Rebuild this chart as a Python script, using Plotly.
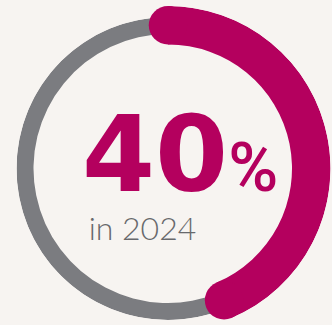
import math
import plotly.graph_objects as go

# ---- data ----
headline_value = ["40"]        # big number
headline_unit = ["%"]
sub_label = ["in 2024"]
arc_share = [43.6]             # visible share of the ring covered by the magenta arc (%)

# ---- styles ----
W, H = 332, 325
BG = "#f7f4f1"
MAGENTA = "#b4005e"
GREY = "#7b7c80"
TEXT_GREY = "#68696c"

CX, CY = 168.0, 168.5          # ring centre in page px
R_OUT_M, R_IN_M = 162.5, 124.0 # magenta band
R_OUT_G, R_IN_G = 151.5, 134.5 # grey band

arc_deg = arc_share[0] / 100 * 360

def sector_bbox(s0, s1):
    pts_x = [0.0, math.cos(math.radians(s0)), math.cos(math.radians(s1))]
    pts_y = [0.0, math.sin(math.radians(s0)), math.sin(math.radians(s1))]
    for a in (0, 90, 180, 270, 360, -90, -180, 450):
        if s0 <= a <= s1:
            pts_x.append(math.cos(math.radians(a)))
            pts_y.append(math.sin(math.radians(a)))
    return min(pts_x), min(pts_y), max(pts_x), max(pts_y)

def domain_for(radius, sector):
    x0, y0, x1, y1 = sector_bbox(*sector)
    left, right = CX + radius * x0, CX + radius * x1
    top, bottom = CY - radius * y1, CY - radius * y0
    return dict(x=[left / W, right / W], y=[1 - bottom / H, 1 - top / H])

sector2 = [90 - arc_deg - 6, 92]

fig = go.Figure()

# grey remainder of the ring
fig.add_trace(go.Barpolar(
    r=[R_OUT_G - R_IN_G], base=[R_IN_G],
    theta=[(arc_deg + 360) / 2], width=[360 - arc_deg],
    marker=dict(color=GREY, line=dict(width=0)),
    hoverinfo="skip", showlegend=False, subplot="polar",
))

# magenta arc
fig.add_trace(go.Barpolar(
    r=[R_OUT_M - R_IN_M], base=[R_IN_M],
    theta=[arc_deg / 2], width=[arc_deg],
    marker=dict(color=MAGENTA, line=dict(width=0)),
    hoverinfo="skip", showlegend=False, subplot="polar2",
))
# rounded ends of the arc
fig.add_trace(go.Scatterpolar(
    r=[(R_OUT_M + R_IN_M) / 2] * 2, theta=[0, arc_deg],
    mode="markers",
    marker=dict(size=R_OUT_M - R_IN_M, color=MAGENTA, line=dict(width=0)),
    cliponaxis=False, hoverinfo="skip", showlegend=False, subplot="polar2",
))

common_polar = dict(
    bgcolor="rgba(0,0,0,0)",
    angularaxis=dict(visible=False, rotation=90, direction="clockwise"),
)
fig.update_layout(
    width=W, height=H,
    margin=dict(l=0, r=0, t=0, b=0),
    paper_bgcolor=BG, plot_bgcolor=BG,
    polar=dict(domain=domain_for(R_OUT_G, [0, 360]),
               radialaxis=dict(visible=False, range=[0, R_OUT_G]),
               **common_polar),
    polar2=dict(domain=domain_for(R_OUT_M, sector2), sector=sector2,
                radialaxis=dict(visible=False, range=[0, R_OUT_M]),
                **common_polar),
)

label = (
    "<span style='font-family:DejaVu Sans;font-size:105px;font-weight:bold;fill:" + MAGENTA + "'>"
    + headline_value[0] + "</span>"
    "<span style='font-family:Roboto;font-size:68px;font-weight:500;fill:" + MAGENTA + "'>"
    + headline_unit[0] + "</span>"
    "<br>"
    "<span style='font-family:Lato;font-size:26px'>&#160;</span>"
    "<span style='font-family:Lato;font-size:32px;font-weight:300'>" + sub_label[0] + "</span>"
)
fig.add_annotation(
    xref="paper", yref="paper", x=80 / W, y=1 - 92 / H,
    xanchor="left", yanchor="top", showarrow=False, align="left",
    text=label,
    font=dict(family="Lato", size=37.7, color=TEXT_GREY),
)

fig.write_html("out.html", config=dict(displayModeBar=False))
